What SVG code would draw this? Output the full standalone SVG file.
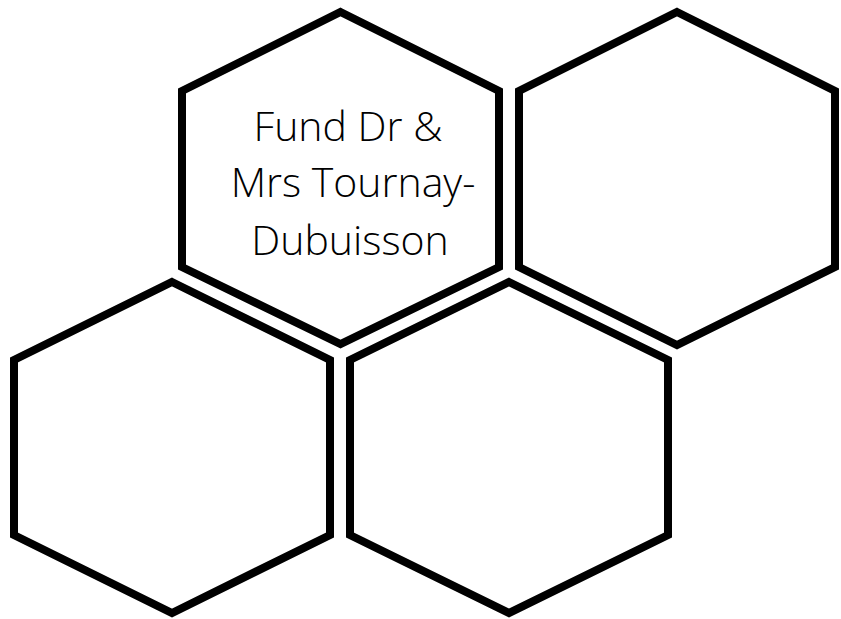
<svg xmlns="http://www.w3.org/2000/svg" width="841" height="619" viewBox="0 0 841 619">
<style>
.hex{fill:#fff;stroke:#000;stroke-width:8;stroke-linejoin:miter}
.lbl{font-family:"Open Sans","Liberation Sans",sans-serif;font-weight:300;font-size:41px;fill:#000;text-anchor:middle}
</style>
<rect width="841" height="619" fill="#fff"/>
<g id="hex-top-right">
<polygon class="hex" points="677,12 835,91 835,267 677,345 519,267 519,91"/>
</g>
<g id="hex-top-center">
<polygon class="hex" points="340.5,12 499,91 499,267 340.5,344 182,267 182,91"/>
<text class="lbl" x="348" y="141">Fund Dr &amp;</text>
<text class="lbl" x="353" y="197">Mrs Tournay-</text>
<text class="lbl" x="350" y="255">Dubuisson</text>
</g>
<g id="hex-bottom-left">
<polygon class="hex" points="172,282 330,360 330,535 172,613 14,535 14,360"/>
</g>
<g id="hex-bottom-center">
<polygon class="hex" points="509,282 668,360 668,535 509,613 350,535 350,360"/>
</g>
<g id="connectors"></g>
</svg>
